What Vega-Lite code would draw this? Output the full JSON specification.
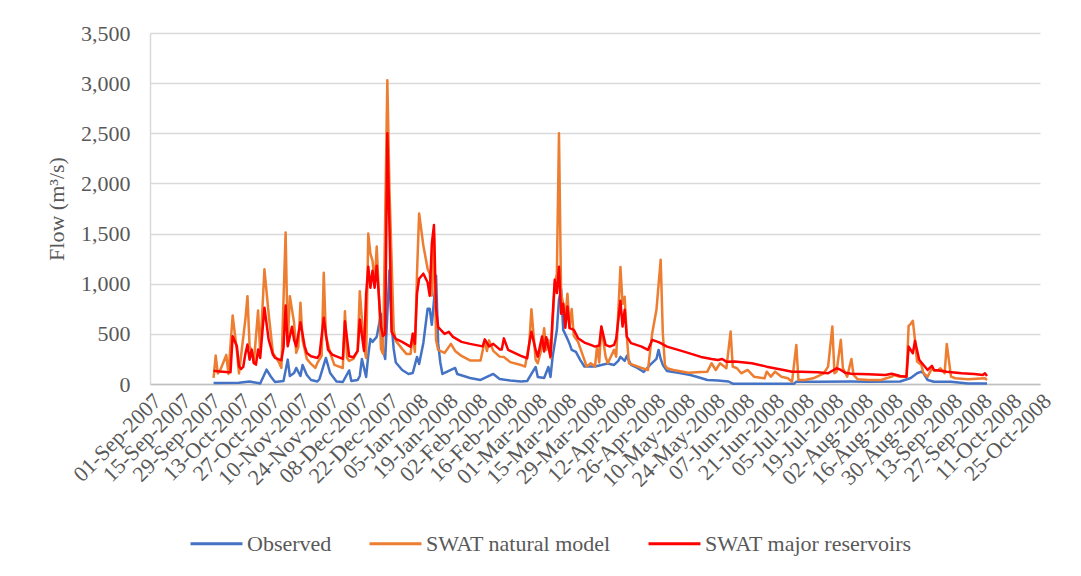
{
  "$schema": "https://vega.github.io/schema/vega-lite/v6.json",
  "autosize": "none",
  "width": 890,
  "height": 351,
  "padding": {"left": 150, "top": 33, "right": 41, "bottom": 192},
  "background": "white",
  "config": {
    "view": {"stroke": null},
    "font": "Liberation Serif"
  },
  "data": {"values": [
    {"d":"2007-10-01","s":"Observed","v":10},{"d":"2007-10-13","s":"Observed","v":12},{"d":"2007-10-18","s":"Observed","v":25},{"d":"2007-10-23","s":"Observed","v":5},{"d":"2007-10-26","s":"Observed","v":143},{"d":"2007-10-28","s":"Observed","v":75},{"d":"2007-10-30","s":"Observed","v":20},{"d":"2007-11-03","s":"Observed","v":30},{"d":"2007-11-05","s":"Observed","v":243},{"d":"2007-11-06","s":"Observed","v":80},{"d":"2007-11-08","s":"Observed","v":110},{"d":"2007-11-09","s":"Observed","v":160},{"d":"2007-11-11","s":"Observed","v":80},{"d":"2007-11-12","s":"Observed","v":190},{"d":"2007-11-14","s":"Observed","v":90},{"d":"2007-11-16","s":"Observed","v":40},{"d":"2007-11-19","s":"Observed","v":25},{"d":"2007-11-20","s":"Observed","v":50},{"d":"2007-11-23","s":"Observed","v":260},{"d":"2007-11-25","s":"Observed","v":110},{"d":"2007-11-28","s":"Observed","v":25},{"d":"2007-12-01","s":"Observed","v":20},{"d":"2007-12-04","s":"Observed","v":135},{"d":"2007-12-05","s":"Observed","v":30},{"d":"2007-12-08","s":"Observed","v":40},{"d":"2007-12-09","s":"Observed","v":80},{"d":"2007-12-10","s":"Observed","v":250},{"d":"2007-12-12","s":"Observed","v":70},{"d":"2007-12-13","s":"Observed","v":285},{"d":"2007-12-14","s":"Observed","v":450},{"d":"2007-12-15","s":"Observed","v":420},{"d":"2007-12-17","s":"Observed","v":470},{"d":"2007-12-19","s":"Observed","v":700},{"d":"2007-12-20","s":"Observed","v":340},{"d":"2007-12-21","s":"Observed","v":250},{"d":"2007-12-22","s":"Observed","v":700},{"d":"2007-12-23","s":"Observed","v":1135},{"d":"2007-12-24","s":"Observed","v":600},{"d":"2007-12-25","s":"Observed","v":350},{"d":"2007-12-26","s":"Observed","v":215},{"d":"2007-12-29","s":"Observed","v":140},{"d":"2008-01-01","s":"Observed","v":100},{"d":"2008-01-03","s":"Observed","v":110},{"d":"2008-01-05","s":"Observed","v":270},{"d":"2008-01-06","s":"Observed","v":200},{"d":"2008-01-08","s":"Observed","v":410},{"d":"2008-01-10","s":"Observed","v":750},{"d":"2008-01-11","s":"Observed","v":750},{"d":"2008-01-12","s":"Observed","v":590},{"d":"2008-01-13","s":"Observed","v":830},{"d":"2008-01-14","s":"Observed","v":1080},{"d":"2008-01-15","s":"Observed","v":400},{"d":"2008-01-16","s":"Observed","v":215},{"d":"2008-01-17","s":"Observed","v":100},{"d":"2008-01-23","s":"Observed","v":160},{"d":"2008-01-24","s":"Observed","v":100},{"d":"2008-01-27","s":"Observed","v":80},{"d":"2008-01-30","s":"Observed","v":60},{"d":"2008-02-04","s":"Observed","v":40},{"d":"2008-02-09","s":"Observed","v":90},{"d":"2008-02-10","s":"Observed","v":100},{"d":"2008-02-13","s":"Observed","v":50},{"d":"2008-02-18","s":"Observed","v":35},{"d":"2008-02-23","s":"Observed","v":25},{"d":"2008-02-26","s":"Observed","v":30},{"d":"2008-02-28","s":"Observed","v":100},{"d":"2008-03-01","s":"Observed","v":170},{"d":"2008-03-02","s":"Observed","v":70},{"d":"2008-03-05","s":"Observed","v":60},{"d":"2008-03-07","s":"Observed","v":170},{"d":"2008-03-08","s":"Observed","v":70},{"d":"2008-03-09","s":"Observed","v":270},{"d":"2008-03-11","s":"Observed","v":540},{"d":"2008-03-12","s":"Observed","v":840},{"d":"2008-03-13","s":"Observed","v":950},{"d":"2008-03-14","s":"Observed","v":540},{"d":"2008-03-16","s":"Observed","v":450},{"d":"2008-03-17","s":"Observed","v":400},{"d":"2008-03-18","s":"Observed","v":340},{"d":"2008-03-20","s":"Observed","v":320},{"d":"2008-03-22","s":"Observed","v":240},{"d":"2008-03-24","s":"Observed","v":175},{"d":"2008-03-29","s":"Observed","v":175},{"d":"2008-04-01","s":"Observed","v":190},{"d":"2008-04-04","s":"Observed","v":205},{"d":"2008-04-07","s":"Observed","v":190},{"d":"2008-04-09","s":"Observed","v":230},{"d":"2008-04-10","s":"Observed","v":270},{"d":"2008-04-12","s":"Observed","v":230},{"d":"2008-04-13","s":"Observed","v":280},{"d":"2008-04-15","s":"Observed","v":190},{"d":"2008-04-18","s":"Observed","v":160},{"d":"2008-04-21","s":"Observed","v":120},{"d":"2008-04-24","s":"Observed","v":190},{"d":"2008-04-27","s":"Observed","v":250},{"d":"2008-04-28","s":"Observed","v":340},{"d":"2008-04-29","s":"Observed","v":250},{"d":"2008-04-30","s":"Observed","v":190},{"d":"2008-05-02","s":"Observed","v":130},{"d":"2008-05-08","s":"Observed","v":110},{"d":"2008-05-13","s":"Observed","v":90},{"d":"2008-05-18","s":"Observed","v":60},{"d":"2008-05-21","s":"Observed","v":40},{"d":"2008-05-26","s":"Observed","v":35},{"d":"2008-05-31","s":"Observed","v":25},{"d":"2008-06-02","s":"Observed","v":3},{"d":"2008-06-18","s":"Observed","v":3},{"d":"2008-07-01","s":"Observed","v":3},{"d":"2008-07-02","s":"Observed","v":23},{"d":"2008-07-12","s":"Observed","v":23},{"d":"2008-07-28","s":"Observed","v":25},{"d":"2008-08-05","s":"Observed","v":23},{"d":"2008-08-20","s":"Observed","v":25},{"d":"2008-08-25","s":"Observed","v":60},{"d":"2008-08-28","s":"Observed","v":107},{"d":"2008-08-30","s":"Observed","v":123},{"d":"2008-08-31","s":"Observed","v":107},{"d":"2008-09-02","s":"Observed","v":40},{"d":"2008-09-05","s":"Observed","v":23},{"d":"2008-09-13","s":"Observed","v":23},{"d":"2008-09-21","s":"Observed","v":5},{"d":"2008-09-30","s":"Observed","v":5},

    {"d":"2007-10-01","s":"SWAT natural model","v":60},{"d":"2007-10-02","s":"SWAT natural model","v":283},{"d":"2007-10-03","s":"SWAT natural model","v":105},{"d":"2007-10-04","s":"SWAT natural model","v":130},{"d":"2007-10-07","s":"SWAT natural model","v":290},{"d":"2007-10-08","s":"SWAT natural model","v":100},{"d":"2007-10-10","s":"SWAT natural model","v":683},{"d":"2007-10-12","s":"SWAT natural model","v":330},{"d":"2007-10-13","s":"SWAT natural model","v":105},{"d":"2007-10-16","s":"SWAT natural model","v":643},{"d":"2007-10-17","s":"SWAT natural model","v":876},{"d":"2007-10-18","s":"SWAT natural model","v":376},{"d":"2007-10-19","s":"SWAT natural model","v":330},{"d":"2007-10-20","s":"SWAT natural model","v":210},{"d":"2007-10-22","s":"SWAT natural model","v":733},{"d":"2007-10-23","s":"SWAT natural model","v":310},{"d":"2007-10-25","s":"SWAT natural model","v":1143},{"d":"2007-10-27","s":"SWAT natural model","v":700},{"d":"2007-10-29","s":"SWAT natural model","v":310},{"d":"2007-11-01","s":"SWAT natural model","v":210},{"d":"2007-11-02","s":"SWAT natural model","v":160},{"d":"2007-11-04","s":"SWAT natural model","v":1510},{"d":"2007-11-05","s":"SWAT natural model","v":400},{"d":"2007-11-06","s":"SWAT natural model","v":876},{"d":"2007-11-08","s":"SWAT natural model","v":610},{"d":"2007-11-09","s":"SWAT natural model","v":310},{"d":"2007-11-10","s":"SWAT natural model","v":370},{"d":"2007-11-11","s":"SWAT natural model","v":810},{"d":"2007-11-12","s":"SWAT natural model","v":440},{"d":"2007-11-14","s":"SWAT natural model","v":250},{"d":"2007-11-16","s":"SWAT natural model","v":200},{"d":"2007-11-18","s":"SWAT natural model","v":160},{"d":"2007-11-19","s":"SWAT natural model","v":210},{"d":"2007-11-21","s":"SWAT natural model","v":280},{"d":"2007-11-22","s":"SWAT natural model","v":1110},{"d":"2007-11-23","s":"SWAT natural model","v":480},{"d":"2007-11-25","s":"SWAT natural model","v":310},{"d":"2007-11-27","s":"SWAT natural model","v":190},{"d":"2007-12-01","s":"SWAT natural model","v":160},{"d":"2007-12-02","s":"SWAT natural model","v":726},{"d":"2007-12-03","s":"SWAT natural model","v":260},{"d":"2007-12-04","s":"SWAT natural model","v":230},{"d":"2007-12-06","s":"SWAT natural model","v":250},{"d":"2007-12-08","s":"SWAT natural model","v":330},{"d":"2007-12-09","s":"SWAT natural model","v":926},{"d":"2007-12-11","s":"SWAT natural model","v":360},{"d":"2007-12-12","s":"SWAT natural model","v":260},{"d":"2007-12-13","s":"SWAT natural model","v":1500},{"d":"2007-12-14","s":"SWAT natural model","v":1300},{"d":"2007-12-15","s":"SWAT natural model","v":1230},{"d":"2007-12-16","s":"SWAT natural model","v":1000},{"d":"2007-12-17","s":"SWAT natural model","v":1370},{"d":"2007-12-18","s":"SWAT natural model","v":900},{"d":"2007-12-19","s":"SWAT natural model","v":350},{"d":"2007-12-20","s":"SWAT natural model","v":300},{"d":"2007-12-22","s":"SWAT natural model","v":3030},{"d":"2007-12-23","s":"SWAT natural model","v":1950},{"d":"2007-12-25","s":"SWAT natural model","v":540},{"d":"2007-12-26","s":"SWAT natural model","v":430},{"d":"2007-12-29","s":"SWAT natural model","v":350},{"d":"2007-12-31","s":"SWAT natural model","v":300},{"d":"2008-01-02","s":"SWAT natural model","v":300},{"d":"2008-01-03","s":"SWAT natural model","v":500},{"d":"2008-01-04","s":"SWAT natural model","v":320},{"d":"2008-01-05","s":"SWAT natural model","v":1100},{"d":"2008-01-06","s":"SWAT natural model","v":1700},{"d":"2008-01-08","s":"SWAT natural model","v":1380},{"d":"2008-01-10","s":"SWAT natural model","v":1150},{"d":"2008-01-11","s":"SWAT natural model","v":1100},{"d":"2008-01-12","s":"SWAT natural model","v":880},{"d":"2008-01-13","s":"SWAT natural model","v":1500},{"d":"2008-01-14","s":"SWAT natural model","v":440},{"d":"2008-01-15","s":"SWAT natural model","v":340},{"d":"2008-01-18","s":"SWAT natural model","v":310},{"d":"2008-01-21","s":"SWAT natural model","v":400},{"d":"2008-01-23","s":"SWAT natural model","v":330},{"d":"2008-01-26","s":"SWAT natural model","v":280},{"d":"2008-01-30","s":"SWAT natural model","v":235},{"d":"2008-02-04","s":"SWAT natural model","v":235},{"d":"2008-02-06","s":"SWAT natural model","v":435},{"d":"2008-02-07","s":"SWAT natural model","v":330},{"d":"2008-02-08","s":"SWAT natural model","v":435},{"d":"2008-02-10","s":"SWAT natural model","v":330},{"d":"2008-02-13","s":"SWAT natural model","v":273},{"d":"2008-02-15","s":"SWAT natural model","v":270},{"d":"2008-02-18","s":"SWAT natural model","v":218},{"d":"2008-02-23","s":"SWAT natural model","v":190},{"d":"2008-02-25","s":"SWAT natural model","v":173},{"d":"2008-02-27","s":"SWAT natural model","v":407},{"d":"2008-02-28","s":"SWAT natural model","v":746},{"d":"2008-03-01","s":"SWAT natural model","v":240},{"d":"2008-03-02","s":"SWAT natural model","v":207},{"d":"2008-03-04","s":"SWAT natural model","v":373},{"d":"2008-03-05","s":"SWAT natural model","v":557},{"d":"2008-03-06","s":"SWAT natural model","v":340},{"d":"2008-03-07","s":"SWAT natural model","v":440},{"d":"2008-03-08","s":"SWAT natural model","v":257},{"d":"2008-03-09","s":"SWAT natural model","v":607},{"d":"2008-03-10","s":"SWAT natural model","v":1000},{"d":"2008-03-11","s":"SWAT natural model","v":1100},{"d":"2008-03-12","s":"SWAT natural model","v":2500},{"d":"2008-03-13","s":"SWAT natural model","v":900},{"d":"2008-03-14","s":"SWAT natural model","v":800},{"d":"2008-03-15","s":"SWAT natural model","v":650},{"d":"2008-03-16","s":"SWAT natural model","v":900},{"d":"2008-03-17","s":"SWAT natural model","v":560},{"d":"2008-03-18","s":"SWAT natural model","v":747},{"d":"2008-03-19","s":"SWAT natural model","v":480},{"d":"2008-03-21","s":"SWAT natural model","v":420},{"d":"2008-03-22","s":"SWAT natural model","v":360},{"d":"2008-03-24","s":"SWAT natural model","v":240},{"d":"2008-03-25","s":"SWAT natural model","v":175},{"d":"2008-03-27","s":"SWAT natural model","v":207},{"d":"2008-03-29","s":"SWAT natural model","v":175},{"d":"2008-03-30","s":"SWAT natural model","v":380},{"d":"2008-03-31","s":"SWAT natural model","v":215},{"d":"2008-04-01","s":"SWAT natural model","v":570},{"d":"2008-04-03","s":"SWAT natural model","v":273},{"d":"2008-04-04","s":"SWAT natural model","v":207},{"d":"2008-04-07","s":"SWAT natural model","v":340},{"d":"2008-04-08","s":"SWAT natural model","v":273},{"d":"2008-04-10","s":"SWAT natural model","v":1167},{"d":"2008-04-11","s":"SWAT natural model","v":800},{"d":"2008-04-12","s":"SWAT natural model","v":870},{"d":"2008-04-13","s":"SWAT natural model","v":480},{"d":"2008-04-14","s":"SWAT natural model","v":207},{"d":"2008-04-16","s":"SWAT natural model","v":190},{"d":"2008-04-20","s":"SWAT natural model","v":160},{"d":"2008-04-23","s":"SWAT natural model","v":140},{"d":"2008-04-25","s":"SWAT natural model","v":507},{"d":"2008-04-27","s":"SWAT natural model","v":740},{"d":"2008-04-29","s":"SWAT natural model","v":1240},{"d":"2008-04-30","s":"SWAT natural model","v":507},{"d":"2008-05-01","s":"SWAT natural model","v":190},{"d":"2008-05-02","s":"SWAT natural model","v":157},{"d":"2008-05-05","s":"SWAT natural model","v":140},{"d":"2008-05-12","s":"SWAT natural model","v":113},{"d":"2008-05-18","s":"SWAT natural model","v":120},{"d":"2008-05-21","s":"SWAT natural model","v":123},{"d":"2008-05-23","s":"SWAT natural model","v":207},{"d":"2008-05-25","s":"SWAT natural model","v":140},{"d":"2008-05-27","s":"SWAT natural model","v":207},{"d":"2008-05-30","s":"SWAT natural model","v":157},{"d":"2008-06-01","s":"SWAT natural model","v":523},{"d":"2008-06-02","s":"SWAT natural model","v":173},{"d":"2008-06-04","s":"SWAT natural model","v":157},{"d":"2008-06-06","s":"SWAT natural model","v":107},{"d":"2008-06-09","s":"SWAT natural model","v":140},{"d":"2008-06-12","s":"SWAT natural model","v":73},{"d":"2008-06-17","s":"SWAT natural model","v":57},{"d":"2008-06-18","s":"SWAT natural model","v":123},{"d":"2008-06-20","s":"SWAT natural model","v":73},{"d":"2008-06-22","s":"SWAT natural model","v":123},{"d":"2008-06-25","s":"SWAT natural model","v":73},{"d":"2008-06-28","s":"SWAT natural model","v":57},{"d":"2008-06-30","s":"SWAT natural model","v":23},{"d":"2008-07-02","s":"SWAT natural model","v":390},{"d":"2008-07-03","s":"SWAT natural model","v":40},{"d":"2008-07-06","s":"SWAT natural model","v":40},{"d":"2008-07-10","s":"SWAT natural model","v":57},{"d":"2008-07-15","s":"SWAT natural model","v":107},{"d":"2008-07-17","s":"SWAT natural model","v":173},{"d":"2008-07-19","s":"SWAT natural model","v":573},{"d":"2008-07-20","s":"SWAT natural model","v":107},{"d":"2008-07-21","s":"SWAT natural model","v":123},{"d":"2008-07-23","s":"SWAT natural model","v":440},{"d":"2008-07-24","s":"SWAT natural model","v":157},{"d":"2008-07-26","s":"SWAT natural model","v":73},{"d":"2008-07-28","s":"SWAT natural model","v":250},{"d":"2008-07-29","s":"SWAT natural model","v":90},{"d":"2008-07-31","s":"SWAT natural model","v":47},{"d":"2008-08-05","s":"SWAT natural model","v":40},{"d":"2008-08-11","s":"SWAT natural model","v":40},{"d":"2008-08-16","s":"SWAT natural model","v":73},{"d":"2008-08-17","s":"SWAT natural model","v":90},{"d":"2008-08-20","s":"SWAT natural model","v":73},{"d":"2008-08-23","s":"SWAT natural model","v":73},{"d":"2008-08-24","s":"SWAT natural model","v":580},{"d":"2008-08-25","s":"SWAT natural model","v":600},{"d":"2008-08-26","s":"SWAT natural model","v":630},{"d":"2008-08-27","s":"SWAT natural model","v":440},{"d":"2008-08-28","s":"SWAT natural model","v":223},{"d":"2008-08-30","s":"SWAT natural model","v":190},{"d":"2008-08-31","s":"SWAT natural model","v":107},{"d":"2008-09-02","s":"SWAT natural model","v":73},{"d":"2008-09-04","s":"SWAT natural model","v":157},{"d":"2008-09-05","s":"SWAT natural model","v":133},{"d":"2008-09-07","s":"SWAT natural model","v":140},{"d":"2008-09-08","s":"SWAT natural model","v":157},{"d":"2008-09-10","s":"SWAT natural model","v":107},{"d":"2008-09-11","s":"SWAT natural model","v":400},{"d":"2008-09-13","s":"SWAT natural model","v":73},{"d":"2008-09-15","s":"SWAT natural model","v":57},{"d":"2008-09-21","s":"SWAT natural model","v":47},{"d":"2008-09-29","s":"SWAT natural model","v":57},{"d":"2008-09-30","s":"SWAT natural model","v":40},

    {"d":"2007-10-01","s":"SWAT major reservoirs","v":133},{"d":"2007-10-04","s":"SWAT major reservoirs","v":125},{"d":"2007-10-07","s":"SWAT major reservoirs","v":120},{"d":"2007-10-09","s":"SWAT major reservoirs","v":118},{"d":"2007-10-10","s":"SWAT major reservoirs","v":476},{"d":"2007-10-12","s":"SWAT major reservoirs","v":376},{"d":"2007-10-13","s":"SWAT major reservoirs","v":176},{"d":"2007-10-14","s":"SWAT major reservoirs","v":150},{"d":"2007-10-15","s":"SWAT major reservoirs","v":170},{"d":"2007-10-16","s":"SWAT major reservoirs","v":300},{"d":"2007-10-17","s":"SWAT major reservoirs","v":393},{"d":"2007-10-18","s":"SWAT major reservoirs","v":243},{"d":"2007-10-19","s":"SWAT major reservoirs","v":343},{"d":"2007-10-20","s":"SWAT major reservoirs","v":210},{"d":"2007-10-21","s":"SWAT major reservoirs","v":193},{"d":"2007-10-22","s":"SWAT major reservoirs","v":343},{"d":"2007-10-23","s":"SWAT major reservoirs","v":260},{"d":"2007-10-25","s":"SWAT major reservoirs","v":760},{"d":"2007-10-27","s":"SWAT major reservoirs","v":443},{"d":"2007-10-29","s":"SWAT major reservoirs","v":293},{"d":"2007-10-30","s":"SWAT major reservoirs","v":260},{"d":"2007-11-02","s":"SWAT major reservoirs","v":236},{"d":"2007-11-03","s":"SWAT major reservoirs","v":360},{"d":"2007-11-04","s":"SWAT major reservoirs","v":783},{"d":"2007-11-05","s":"SWAT major reservoirs","v":376},{"d":"2007-11-06","s":"SWAT major reservoirs","v":476},{"d":"2007-11-07","s":"SWAT major reservoirs","v":570},{"d":"2007-11-08","s":"SWAT major reservoirs","v":440},{"d":"2007-11-09","s":"SWAT major reservoirs","v":376},{"d":"2007-11-11","s":"SWAT major reservoirs","v":616},{"d":"2007-11-13","s":"SWAT major reservoirs","v":376},{"d":"2007-11-14","s":"SWAT major reservoirs","v":310},{"d":"2007-11-16","s":"SWAT major reservoirs","v":276},{"d":"2007-11-19","s":"SWAT major reservoirs","v":260},{"d":"2007-11-20","s":"SWAT major reservoirs","v":293},{"d":"2007-11-22","s":"SWAT major reservoirs","v":660},{"d":"2007-11-24","s":"SWAT major reservoirs","v":343},{"d":"2007-11-26","s":"SWAT major reservoirs","v":293},{"d":"2007-11-28","s":"SWAT major reservoirs","v":276},{"d":"2007-12-01","s":"SWAT major reservoirs","v":250},{"d":"2007-12-02","s":"SWAT major reservoirs","v":626},{"d":"2007-12-04","s":"SWAT major reservoirs","v":276},{"d":"2007-12-06","s":"SWAT major reservoirs","v":266},{"d":"2007-12-08","s":"SWAT major reservoirs","v":330},{"d":"2007-12-09","s":"SWAT major reservoirs","v":643},{"d":"2007-12-11","s":"SWAT major reservoirs","v":330},{"d":"2007-12-12","s":"SWAT major reservoirs","v":900},{"d":"2007-12-13","s":"SWAT major reservoirs","v":1170},{"d":"2007-12-14","s":"SWAT major reservoirs","v":960},{"d":"2007-12-15","s":"SWAT major reservoirs","v":1130},{"d":"2007-12-16","s":"SWAT major reservoirs","v":960},{"d":"2007-12-17","s":"SWAT major reservoirs","v":1180},{"d":"2007-12-18","s":"SWAT major reservoirs","v":880},{"d":"2007-12-19","s":"SWAT major reservoirs","v":570},{"d":"2007-12-20","s":"SWAT major reservoirs","v":480},{"d":"2007-12-21","s":"SWAT major reservoirs","v":500},{"d":"2007-12-22","s":"SWAT major reservoirs","v":2500},{"d":"2007-12-23","s":"SWAT major reservoirs","v":1570},{"d":"2007-12-24","s":"SWAT major reservoirs","v":520},{"d":"2007-12-26","s":"SWAT major reservoirs","v":450},{"d":"2007-12-29","s":"SWAT major reservoirs","v":420},{"d":"2008-01-02","s":"SWAT major reservoirs","v":370},{"d":"2008-01-03","s":"SWAT major reservoirs","v":500},{"d":"2008-01-04","s":"SWAT major reservoirs","v":400},{"d":"2008-01-05","s":"SWAT major reservoirs","v":900},{"d":"2008-01-06","s":"SWAT major reservoirs","v":1050},{"d":"2008-01-08","s":"SWAT major reservoirs","v":1100},{"d":"2008-01-10","s":"SWAT major reservoirs","v":1015},{"d":"2008-01-11","s":"SWAT major reservoirs","v":880},{"d":"2008-01-12","s":"SWAT major reservoirs","v":1400},{"d":"2008-01-13","s":"SWAT major reservoirs","v":1585},{"d":"2008-01-14","s":"SWAT major reservoirs","v":750},{"d":"2008-01-15","s":"SWAT major reservoirs","v":568},{"d":"2008-01-18","s":"SWAT major reservoirs","v":500},{"d":"2008-01-20","s":"SWAT major reservoirs","v":520},{"d":"2008-01-22","s":"SWAT major reservoirs","v":470},{"d":"2008-01-26","s":"SWAT major reservoirs","v":420},{"d":"2008-01-30","s":"SWAT major reservoirs","v":400},{"d":"2008-02-05","s":"SWAT major reservoirs","v":375},{"d":"2008-02-06","s":"SWAT major reservoirs","v":445},{"d":"2008-02-08","s":"SWAT major reservoirs","v":375},{"d":"2008-02-10","s":"SWAT major reservoirs","v":400},{"d":"2008-02-13","s":"SWAT major reservoirs","v":345},{"d":"2008-02-14","s":"SWAT major reservoirs","v":345},{"d":"2008-02-15","s":"SWAT major reservoirs","v":455},{"d":"2008-02-17","s":"SWAT major reservoirs","v":340},{"d":"2008-02-20","s":"SWAT major reservoirs","v":310},{"d":"2008-02-23","s":"SWAT major reservoirs","v":280},{"d":"2008-02-26","s":"SWAT major reservoirs","v":257},{"d":"2008-02-27","s":"SWAT major reservoirs","v":407},{"d":"2008-02-28","s":"SWAT major reservoirs","v":520},{"d":"2008-03-01","s":"SWAT major reservoirs","v":340},{"d":"2008-03-02","s":"SWAT major reservoirs","v":273},{"d":"2008-03-04","s":"SWAT major reservoirs","v":473},{"d":"2008-03-05","s":"SWAT major reservoirs","v":323},{"d":"2008-03-06","s":"SWAT major reservoirs","v":467},{"d":"2008-03-08","s":"SWAT major reservoirs","v":273},{"d":"2008-03-09","s":"SWAT major reservoirs","v":673},{"d":"2008-03-10","s":"SWAT major reservoirs","v":1040},{"d":"2008-03-11","s":"SWAT major reservoirs","v":907},{"d":"2008-03-12","s":"SWAT major reservoirs","v":1170},{"d":"2008-03-13","s":"SWAT major reservoirs","v":700},{"d":"2008-03-14","s":"SWAT major reservoirs","v":800},{"d":"2008-03-15","s":"SWAT major reservoirs","v":560},{"d":"2008-03-16","s":"SWAT major reservoirs","v":773},{"d":"2008-03-17","s":"SWAT major reservoirs","v":557},{"d":"2008-03-19","s":"SWAT major reservoirs","v":540},{"d":"2008-03-21","s":"SWAT major reservoirs","v":457},{"d":"2008-03-24","s":"SWAT major reservoirs","v":413},{"d":"2008-03-27","s":"SWAT major reservoirs","v":390},{"d":"2008-03-29","s":"SWAT major reservoirs","v":373},{"d":"2008-03-31","s":"SWAT major reservoirs","v":383},{"d":"2008-04-01","s":"SWAT major reservoirs","v":573},{"d":"2008-04-03","s":"SWAT major reservoirs","v":390},{"d":"2008-04-05","s":"SWAT major reservoirs","v":373},{"d":"2008-04-07","s":"SWAT major reservoirs","v":390},{"d":"2008-04-08","s":"SWAT major reservoirs","v":450},{"d":"2008-04-10","s":"SWAT major reservoirs","v":830},{"d":"2008-04-11","s":"SWAT major reservoirs","v":573},{"d":"2008-04-12","s":"SWAT major reservoirs","v":740},{"d":"2008-04-13","s":"SWAT major reservoirs","v":473},{"d":"2008-04-15","s":"SWAT major reservoirs","v":407},{"d":"2008-04-20","s":"SWAT major reservoirs","v":373},{"d":"2008-04-23","s":"SWAT major reservoirs","v":340},{"d":"2008-04-25","s":"SWAT major reservoirs","v":440},{"d":"2008-04-28","s":"SWAT major reservoirs","v":417},{"d":"2008-04-29","s":"SWAT major reservoirs","v":407},{"d":"2008-05-02","s":"SWAT major reservoirs","v":373},{"d":"2008-05-10","s":"SWAT major reservoirs","v":323},{"d":"2008-05-18","s":"SWAT major reservoirs","v":270},{"d":"2008-05-23","s":"SWAT major reservoirs","v":250},{"d":"2008-05-26","s":"SWAT major reservoirs","v":240},{"d":"2008-05-28","s":"SWAT major reservoirs","v":250},{"d":"2008-05-30","s":"SWAT major reservoirs","v":223},{"d":"2008-06-03","s":"SWAT major reservoirs","v":224},{"d":"2008-06-11","s":"SWAT major reservoirs","v":207},{"d":"2008-06-18","s":"SWAT major reservoirs","v":173},{"d":"2008-06-26","s":"SWAT major reservoirs","v":140},{"d":"2008-06-30","s":"SWAT major reservoirs","v":123},{"d":"2008-07-04","s":"SWAT major reservoirs","v":123},{"d":"2008-07-12","s":"SWAT major reservoirs","v":117},{"d":"2008-07-17","s":"SWAT major reservoirs","v":107},{"d":"2008-07-21","s":"SWAT major reservoirs","v":157},{"d":"2008-07-23","s":"SWAT major reservoirs","v":140},{"d":"2008-07-25","s":"SWAT major reservoirs","v":113},{"d":"2008-07-28","s":"SWAT major reservoirs","v":103},{"d":"2008-08-05","s":"SWAT major reservoirs","v":97},{"d":"2008-08-13","s":"SWAT major reservoirs","v":90},{"d":"2008-08-16","s":"SWAT major reservoirs","v":103},{"d":"2008-08-20","s":"SWAT major reservoirs","v":80},{"d":"2008-08-23","s":"SWAT major reservoirs","v":73},{"d":"2008-08-24","s":"SWAT major reservoirs","v":373},{"d":"2008-08-26","s":"SWAT major reservoirs","v":307},{"d":"2008-08-27","s":"SWAT major reservoirs","v":430},{"d":"2008-08-29","s":"SWAT major reservoirs","v":240},{"d":"2008-08-31","s":"SWAT major reservoirs","v":190},{"d":"2008-09-02","s":"SWAT major reservoirs","v":140},{"d":"2008-09-04","s":"SWAT major reservoirs","v":180},{"d":"2008-09-05","s":"SWAT major reservoirs","v":140},{"d":"2008-09-08","s":"SWAT major reservoirs","v":133},{"d":"2008-09-11","s":"SWAT major reservoirs","v":123},{"d":"2008-09-18","s":"SWAT major reservoirs","v":107},{"d":"2008-09-24","s":"SWAT major reservoirs","v":100},{"d":"2008-09-28","s":"SWAT major reservoirs","v":90},{"d":"2008-09-29","s":"SWAT major reservoirs","v":107},{"d":"2008-09-30","s":"SWAT major reservoirs","v":80}
  ]},
  "mark": {"type": "line", "strokeWidth": 2.5, "strokeJoin": "round", "interpolate": "linear"},
  "encoding": {
    "x": {
      "field": "d",
      "type": "temporal",
      "scale": {"type": "utc", "domain": [{"year": 2007, "month": 9, "date": 1, "utc": true}, {"year": 2008, "month": 10, "date": 25, "utc": true}]},
      "axis": {
        "title": null,
        "labelExpr": "utcFormat(datum.value, '%d-%b-%Y')",
        "values": [
          {"year":2007,"month":9,"date":1,"utc":true},{"year":2007,"month":9,"date":15,"utc":true},{"year":2007,"month":9,"date":29,"utc":true},
          {"year":2007,"month":10,"date":13,"utc":true},{"year":2007,"month":10,"date":27,"utc":true},{"year":2007,"month":11,"date":10,"utc":true},
          {"year":2007,"month":11,"date":24,"utc":true},{"year":2007,"month":12,"date":8,"utc":true},{"year":2007,"month":12,"date":22,"utc":true},
          {"year":2008,"month":1,"date":5,"utc":true},{"year":2008,"month":1,"date":19,"utc":true},{"year":2008,"month":2,"date":2,"utc":true},
          {"year":2008,"month":2,"date":16,"utc":true},{"year":2008,"month":3,"date":1,"utc":true},{"year":2008,"month":3,"date":15,"utc":true},
          {"year":2008,"month":3,"date":29,"utc":true},{"year":2008,"month":4,"date":12,"utc":true},{"year":2008,"month":4,"date":26,"utc":true},
          {"year":2008,"month":5,"date":10,"utc":true},{"year":2008,"month":5,"date":24,"utc":true},{"year":2008,"month":6,"date":7,"utc":true},
          {"year":2008,"month":6,"date":21,"utc":true},{"year":2008,"month":7,"date":5,"utc":true},{"year":2008,"month":7,"date":19,"utc":true},
          {"year":2008,"month":8,"date":2,"utc":true},{"year":2008,"month":8,"date":16,"utc":true},{"year":2008,"month":8,"date":30,"utc":true},
          {"year":2008,"month":9,"date":13,"utc":true},{"year":2008,"month":9,"date":27,"utc":true},{"year":2008,"month":10,"date":11,"utc":true},
          {"year":2008,"month":10,"date":25,"utc":true}
        ],
        "labelAngle": -45,
        "labelFont": "Liberation Serif",
        "labelFontSize": 22,
        "labelColor": "#595959",
        "labelPadding": 6,
        "labelOverlap": false,
        "labelBound": false,
        "labelFlush": false,
        "ticks": false,
        "grid": false,
        "domainColor": "#bfbfbf",
        "domainWidth": 1.5
      }
    },
    "y": {
      "field": "v",
      "type": "quantitative",
      "scale": {"domain": [0, 3500], "nice": false, "zero": true},
      "axis": {
        "title": "Flow (m³/s)",
        "titleFont": "Liberation Serif",
        "titleFontSize": 22,
        "titleFontWeight": "normal",
        "titleColor": "#595959",
        "titlePadding": 12,
        "values": [0, 500, 1000, 1500, 2000, 2500, 3000, 3500],
        "format": ",d",
        "labelFont": "Liberation Serif",
        "labelFontSize": 22,
        "labelColor": "#595959",
        "labelPadding": 20,
        "ticks": false,
        "grid": true,
        "gridColor": "#d9d9d9",
        "gridWidth": 1.5,
        "domainColor": "#d9d9d9",
        "domainWidth": 1.5
      }
    },
    "color": {
      "field": "s",
      "type": "nominal",
      "scale": {"domain": ["Observed", "SWAT natural model", "SWAT major reservoirs"], "range": ["#4472C4", "#ED7D31", "#FF0000"]},
      "legend": {
        "title": null,
        "orient": "none",
        "direction": "horizontal",
        "legendX": 39,
        "legendY": 483,
        "symbolType": "stroke",
        "symbolSize": 2700,
        "symbolStrokeWidth": 3,
        "labelFont": "Liberation Serif",
        "labelFontSize": 22,
        "labelColor": "#595959",
        "labelOffset": 3,
        "columnPadding": 31,
        "labelLimit": 400
      }
    }
  }
}
